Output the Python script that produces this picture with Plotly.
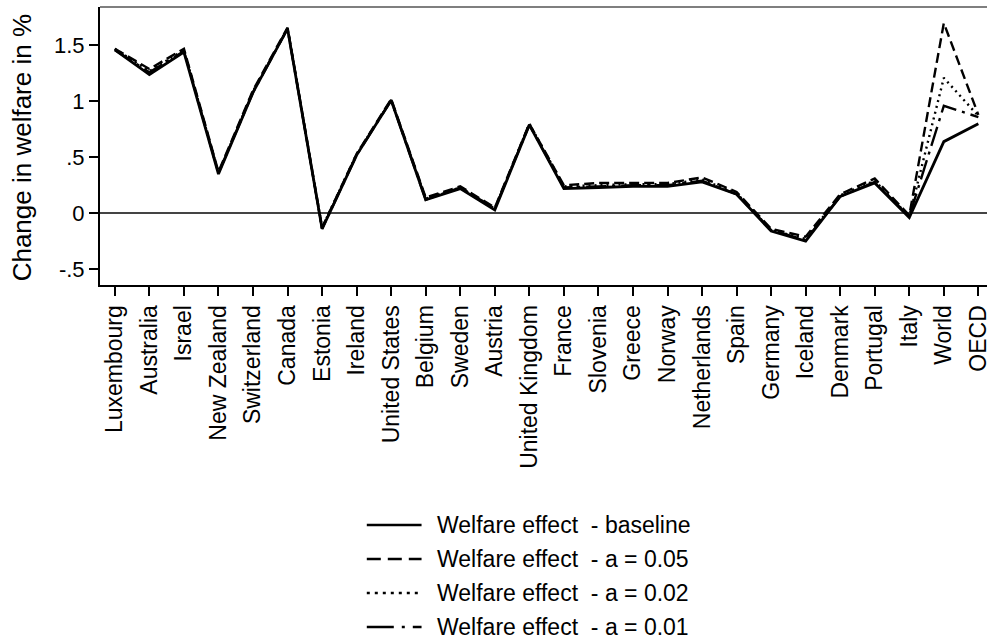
import plotly.graph_objects as go

countries = ["Luxembourg", "Australia", "Israel", "New Zealand", "Switzerland", "Canada",
             "Estonia", "Ireland", "United States", "Belgium", "Sweden", "Austria",
             "United Kingdom", "France", "Slovenia", "Greece", "Norway", "Netherlands",
             "Spain", "Germany", "Iceland", "Denmark", "Portugal", "Italy", "World", "OECD"]

baseline = [1.46, 1.24, 1.44, 0.35, 1.08, 1.65, -0.14, 0.52, 1.01, 0.12, 0.22, 0.03,
            0.79, 0.22, 0.23, 0.24, 0.24, 0.28, 0.17, -0.16, -0.25, 0.15, 0.27, -0.04,
            0.64, 0.80]
a_005 = [1.47, 1.29, 1.47, 0.37, 1.10, 1.66, -0.13, 0.53, 1.02, 0.14, 0.24, 0.05,
         0.80, 0.25, 0.27, 0.27, 0.27, 0.32, 0.19, -0.14, -0.21, 0.17, 0.31, -0.02,
         1.70, 0.88]
a_002 = [1.47, 1.27, 1.46, 0.36, 1.09, 1.65, -0.13, 0.53, 1.01, 0.13, 0.23, 0.04,
         0.80, 0.24, 0.25, 0.26, 0.26, 0.30, 0.18, -0.15, -0.23, 0.16, 0.29, -0.03,
         1.21, 0.87]
a_001 = [1.46, 1.26, 1.45, 0.36, 1.08, 1.65, -0.14, 0.52, 1.01, 0.12, 0.23, 0.04,
         0.79, 0.23, 0.24, 0.25, 0.25, 0.29, 0.17, -0.15, -0.24, 0.15, 0.28, -0.03,
         0.96, 0.86]

series_names = ["Welfare effect  - baseline", "Welfare effect  - a = 0.05",
                "Welfare effect  - a = 0.02", "Welfare effect  - a = 0.01"]
series_values = [baseline, a_005, a_002, a_001]

y_tickvals = [-0.5, 0, 0.5, 1, 1.5]
y_ticktext = ["-.5", "0", ".5", "1", "1.5"]

FONT = "Liberation Sans, Arial, sans-serif"
dashes = ["solid", "10px,5px", "2px,4px", "20px,6px,3px,6px"]
legend_dashes = ["solid", "14px,7px", "3px,5px", "27px,8px,3px,8px"]
widths = [2.8, 2.4, 2.4, 2.4]

W, H = 992, 640
L, R, T, B = 100, 1, 7, 355
pw = W - L - R
ph = H - T - B

fig = go.Figure()
# draw alternatives first, baseline last on top
for i in [1, 2, 3, 0]:
    fig.add_trace(go.Scatter(
        x=countries, y=series_values[i], mode="lines", name=series_names[i],
        line=dict(color="black", width=widths[i], dash=dashes[i]),
        showlegend=False))

def px_x(px):
    return (px - L) / pw

def px_y(py):
    return (H - B - py) / ph

shapes = []
annotations = []
# top border of plot region
shapes.append(dict(type="line", xref="paper", yref="paper", x0=0, x1=1, y0=1, y1=1,
                   line=dict(color="#555555", width=1.5)))
# manual legend
rows = [525, 559, 593, 627]
for i, ry in enumerate(rows):
    shapes.append(dict(type="line", xref="paper", yref="paper",
                       x0=px_x(368), x1=px_x(423), y0=px_y(ry), y1=px_y(ry),
                       line=dict(color="black", width=2.4, dash=legend_dashes[i])))
    annotations.append(dict(text=series_names[i].replace("  ", "&nbsp; "), xref="paper", yref="paper",
                            x=px_x(437), y=px_y(ry), xanchor="left", yanchor="middle",
                            showarrow=False, font=dict(family=FONT, size=23, color="black")))
# y-axis title
annotations.append(dict(text="Change in welfare in %", xref="paper", yref="paper",
                        x=px_x(22), y=px_y(148), xanchor="center", yanchor="middle",
                        textangle=-90, showarrow=False,
                        font=dict(family=FONT, size=26, color="black")))

fig.update_layout(
    width=W, height=H,
    margin=dict(l=L, r=R, t=T, b=B, pad=0),
    paper_bgcolor="white", plot_bgcolor="white",
    font=dict(family=FONT, color="black"),
    shapes=shapes, annotations=annotations,
    xaxis=dict(type="category", categoryorder="array", categoryarray=countries,
               range=[-0.43, 25.25], tickangle=-90, ticks="outside", ticklen=9,
               tickwidth=1.5, tickcolor="black", showline=True, linewidth=2,
               linecolor="black", showgrid=False, zeroline=False,
               tickfont=dict(family=FONT, size=23, color="black")),
    yaxis=dict(range=[-0.642, 1.844], tickvals=y_tickvals, ticktext=y_ticktext,
               ticks="outside", ticklen=9, tickwidth=1.5, tickcolor="black",
               showline=True, linewidth=2, linecolor="black", showgrid=False,
               zeroline=True, zerolinecolor="#444444", zerolinewidth=1.5,
               tickfont=dict(family=FONT, size=22, color="black")),
)

fig.write_html("out.html", config={"displayModeBar": False},
               post_script="document.body.style.margin='0';document.body.style.padding='0';document.body.style.overflow='hidden';")
